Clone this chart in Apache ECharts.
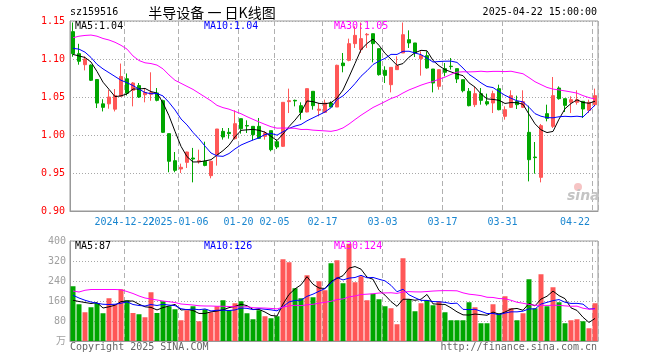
<!DOCTYPE html>
<html><head><meta charset="utf-8">
<script src="https://cdn.jsdelivr.net/npm/echarts@6/dist/echarts.min.js"></script>
<style>html,body{margin:0;padding:0;background:#fff}#c{width:660px;height:360px}</style>
</head><body><div id="c"></div>
<script>
const dates = [
'2024-12-10','2024-12-11','2024-12-12','2024-12-13','2024-12-16','2024-12-17','2024-12-18','2024-12-19','2024-12-20',
'2024-12-23','2024-12-24','2024-12-25','2024-12-26','2024-12-27','2024-12-30','2024-12-31',
'2025-01-02','2025-01-03','2025-01-06','2025-01-07','2025-01-08','2025-01-09','2025-01-10',
'2025-01-13','2025-01-14','2025-01-15','2025-01-16','2025-01-17','2025-01-20','2025-01-21','2025-01-22','2025-01-23','2025-01-24','2025-01-27',
'2025-02-05','2025-02-06','2025-02-07','2025-02-10','2025-02-11','2025-02-12','2025-02-13','2025-02-14',
'2025-02-17','2025-02-18','2025-02-19','2025-02-20','2025-02-21','2025-02-24','2025-02-25','2025-02-26','2025-02-27','2025-02-28',
'2025-03-03','2025-03-04','2025-03-05','2025-03-06','2025-03-07','2025-03-10','2025-03-11','2025-03-12','2025-03-13','2025-03-14',
'2025-03-17','2025-03-18','2025-03-19','2025-03-20','2025-03-21','2025-03-24','2025-03-25','2025-03-26','2025-03-27','2025-03-28',
'2025-03-31','2025-04-01','2025-04-02','2025-04-03','2025-04-07','2025-04-08','2025-04-09','2025-04-10','2025-04-11',
'2025-04-14','2025-04-15','2025-04-16','2025-04-17','2025-04-18','2025-04-21','2025-04-22'];

const open = [1.136,1.107,1.0925,1.092,1.073,1.041,1.041,1.034,1.051,1.074,
1.0588,1.065,1.053,1.0535,1.0553,1.0452,1.0018,0.9662,0.9553,0.964,
0.9697,0.965,0.9654,0.9465,0.974,1.0048,1.0035,0.9952,1.0215,1.0125,
1.0114,1.0114,0.9982,1.0057,0.9912,0.9851,1.0439,1.0456,1.0386,1.0303,
1.0575,1.0325,1.0298,1.0421,1.0368,1.0947,1.0982,1.1202,1.1123,1.1318,
1.1333,1.1136,1.0851,1.0662,1.0860,1.1079,1.1254,1.1211,1.1004,1.1044,
1.0868,1.0640,1.0873,1.0905,1.0873,1.0728,1.0575,1.0399,1.0544,1.0439,
1.0421,1.0610,1.0246,1.0364,1.0443,1.0364,1.0035,0.9710,0.9443,1.0281,
1.0114,1.0618,1.0478,1.0430,1.0430,1.0443,1.0325,1.0399];

const close = [1.107,1.097,1.100,1.072,1.042,1.0364,1.050,1.052,1.077,1.055,
1.0684,1.050,1.056,1.056,1.0456,1.0035,0.9654,0.9535,0.9575,0.9776,
0.9684,0.9662,0.960,0.9654,1.0079,0.9974,1.0018,1.0149,1.0083,1.0118,
1.0004,0.9956,1.0026,0.9807,0.9842,1.0430,1.0452,1.0448,1.0298,1.0610,
1.0386,1.0340,1.0421,1.0368,1.0917,1.0912,1.1202,1.1311,1.1268,1.1325,
1.1202,1.0794,1.0785,1.0890,1.0912,1.1320,1.1211,1.1079,1.1048,1.0882,
1.0684,1.0860,1.0825,1.0900,1.0737,1.0583,1.0386,1.0544,1.0456,1.0408,
1.0544,1.0333,1.0333,1.0518,1.0399,1.0439,0.9675,0.9702,1.0123,1.0219,
1.0518,1.0478,1.0390,1.0465,1.0465,1.0342,1.0430,1.0518];

const low = [1.103,1.0925,1.085,1.071,1.0355,1.031,1.0346,1.031,1.051,1.052,
1.0377,1.0487,1.043,1.045,1.0443,1.0026,0.951,0.951,0.950,0.9566,
0.9377,0.9623,0.9588,0.943,0.9597,0.9939,0.9952,0.9939,1.0018,1.0026,
0.9930,0.9952,0.9939,0.9785,0.9816,0.9842,1.0289,1.0377,1.0202,1.0298,
1.0333,1.0246,1.0289,1.0368,1.0368,1.0825,1.0970,1.1145,1.1079,1.1145,
1.0956,1.0781,1.0684,1.0561,1.0860,1.1079,1.1145,1.1026,1.0781,1.0873,
1.0561,1.0596,1.0772,1.0860,1.0684,1.0561,1.0377,1.0368,1.0399,1.0386,
1.0289,1.0325,1.0202,1.0355,1.0342,1.0355,0.9390,0.9491,0.9377,1.0180,
1.0092,1.0465,1.0303,1.0289,1.0399,1.0224,1.0289,1.0377];

const high = [1.148,1.120,1.1035,1.093,1.073,1.047,1.0596,1.0605,1.094,1.081,
1.0697,1.0684,1.0618,1.0825,1.0618,1.0465,1.0018,0.9776,0.9623,0.978,
0.983,0.9807,0.9912,0.9654,1.0079,1.0092,1.0092,1.0325,1.0215,1.0193,
1.0114,1.0224,1.0048,1.0057,0.9939,1.0430,1.0610,1.0465,1.0430,1.0610,
1.0575,1.0421,1.0465,1.0443,1.0925,1.1079,1.1268,1.1430,1.148,1.1342,
1.1333,1.1136,1.0904,1.0890,1.1035,1.148,1.1377,1.1211,1.1101,1.1101,
1.0868,1.0860,1.0947,1.1013,1.0873,1.0728,1.0618,1.0632,1.0618,1.0544,
1.0583,1.0662,1.0377,1.0588,1.0518,1.0588,1.0386,0.9908,1.0145,1.0399,
1.0763,1.0640,1.0478,1.0509,1.0588,1.0443,1.0465,1.0610];

const volume = [219,147,115,135,152,111,171,147,207,163,
112,107,95,195,112,159,139,127,83,123,
139,79,127,115,139,163,123,151,159,111,
87,123,99,91,99,327,315,211,171,263,
175,239,203,311,323,231,389,235,259,163,
189,167,139,131,67,331,167,119,151,163,
143,159,115,83,83,83,155,135,71,71,
147,111,179,131,83,111,247,131,267,139,
215,155,71,83,87,79,51,151];

const ma5Early = [1.106,1.104,1.102,1.096];
const ma10Early = [1.114,1.113,1.109,1.102,1.093,1.087,1.082,1.077,1.072];
const ma30Early = [1.128,1.130,1.131,1.1315,1.130,1.127,1.125,1.122,1.118,1.113,
1.104,1.098,1.095,1.094,1.092,1.087,1.079,1.072,1.068,1.064,
1.060,1.055,1.050,1.045,1.039,1.036,1.034,1.031,1.028];
const volMa5Early = [163,158,154,150];
const volMa10Early = [183,172,163,156,151,147,146,147,151];
const volMa30Early = [200,196,203,206,206,206,206,206,205,198,
190,180,172,168,164,160,157,154,148,146,
144,141,140,140,139,139,138,137,136];

const xTickIndex = [9,18,28,34,42,52,62,72,87];
const xTickLabels = ['2024-12-22','2025-01-06','01-20','02-05','02-17','03-03','03-17','03-31','04-22'];
const priceTicks = [0.90,0.95,1.00,1.05,1.10,1.15];
const volTicks = [0,80,160,240,320,400];

function movingAvg(arr, n, early, digits) {
  return arr.map((v, i) => {
    if (i < n - 1) return early[i];
    let s = 0;
    for (let k = i - n + 1; k <= i; k++) s += arr[k];
    return +(s / n).toFixed(digits);
  });
}

const UP = '#ff5757', DOWN = '#00a600';
const mono = '"DejaVu Sans Mono", "Noto Sans CJK SC", monospace';
const chart = echarts.init(document.getElementById('c'));

// labels split across two overlaid axes so the touching first pair is not auto-hidden
const firstGroup = xTickIndex.filter((_, k) => k % 2 === 0);
const secondGroup = xTickIndex.filter((_, k) => k % 2 === 1);

const xBase = (gi, labelSet, showLine, showSplit, alignLast) => ({
  type: 'category', gridIndex: gi, data: dates, boundaryGap: true, position: 'bottom',
  axisLine: { show: showLine, lineStyle: { color: '#999' } },
  axisTick: { show: false },
  axisLabel: Object.assign({
    show: labelSet.length > 0, hideOverlap: false,
    interval: (i) => labelSet.includes(i),
    formatter: (v, i) => xTickLabels[xTickIndex.indexOf(i)] || '',
    color: '#1a86d0', fontFamily: mono, fontSize: 10, margin: 6, padding: [0, 5, 0, 0]
  }, alignLast ? { alignMaxLabel: 'right' } : {}),
  splitLine: { show: showSplit, interval: (i) => xTickIndex.includes(i), lineStyle: { color: '#b0b0b0', type: [5, 3], width: 1 } }
});

const lineS = (name, data, color, xi, yi) => ({
  name, type: 'line', data, xAxisIndex: xi, yAxisIndex: yi, symbol: 'none', smooth: false,
  lineStyle: { color, width: 1 }, silent: true, z: 5
});

function txt(text, x, y, color, align, font) {
  return { type: 'text', x, y, z: 100, style: { text, fill: color, align, verticalAlign: 'middle', font: font || ('10px ' + mono) } };
}

chart.setOption({
  animation: false,
  backgroundColor: '#fff',
  grid: [
    { left: 70, top: 21, width: 528, height: 190, show: true, borderColor: '#999', borderWidth: 1 },
    { left: 70, top: 241, width: 528, height: 100, show: true, borderColor: '#999', borderWidth: 1 }
  ],
  xAxis: [xBase(0, firstGroup, true, true, true), xBase(1, [], true, true, false), xBase(0, secondGroup, false, false, false)],
  yAxis: [
    { type: 'value', gridIndex: 0, min: priceTicks[0], max: priceTicks[priceTicks.length - 1], interval: 0.05,
      axisLine: { show: true, lineStyle: { color: '#999' } }, axisTick: { show: false },
      axisLabel: { color: '#ff0000', fontFamily: mono, fontSize: 10, margin: 5, formatter: (v) => v.toFixed(2) },
      splitLine: { show: true, lineStyle: { color: '#a8a8a8', type: [1, 2] } } },
    { type: 'value', gridIndex: 1, min: volTicks[0], max: volTicks[volTicks.length - 1], interval: 80,
      axisLine: { show: true, lineStyle: { color: '#999' } }, axisTick: { show: false },
      axisLabel: { color: '#a0a0a0', fontFamily: mono, fontSize: 10, margin: 4, formatter: (v) => v === 0 ? '万' : String(v) },
      splitLine: { show: true, lineStyle: { color: '#a8a8a8', type: [1, 2] } } }
  ],
  series: [
    { type: 'candlestick', xAxisIndex: 0, yAxisIndex: 0, barWidth: 4,
      data: dates.map((d, i) => [open[i], close[i], low[i], high[i]]),
      itemStyle: { color: UP, color0: DOWN, borderColor: UP, borderColor0: DOWN, borderWidth: 1 } },
    lineS('MA5', movingAvg(close, 5, ma5Early, 4), '#000000', 0, 0),
    lineS('MA10', movingAvg(close, 10, ma10Early, 4), '#0000ff', 0, 0),
    lineS('MA30', movingAvg(close, 30, ma30Early, 4), '#ff00ff', 0, 0),
    { type: 'bar', xAxisIndex: 1, yAxisIndex: 1, barWidth: 5,
      data: volume.map((v, i) => ({ value: v, itemStyle: { color: close[i] >= open[i] ? UP : DOWN } })) },
    lineS('VMA5', movingAvg(volume, 5, volMa5Early, 1), '#000000', 1, 1),
    lineS('VMA10', movingAvg(volume, 10, volMa10Early, 1), '#0000ff', 1, 1),
    lineS('VMA30', movingAvg(volume, 30, volMa30Early, 1), '#ff00ff', 1, 1)
  ],
  graphic: [
    txt('sz159516', 70, 12.5, '#000', 'left'),
    txt('半导设备 一 日K线图', 212, 12.5, '#000', 'center', '14px "Noto Sans CJK SC"'),
    txt('2025-04-22 15:00:00', 597, 12.5, '#000', 'right'),
    txt('MA5:1.04', 75, 26.5, '#000', 'left'),
    txt('MA10:1.04', 204, 26.5, '#0000ff', 'left'),
    txt('MA30:1.05', 334, 26.5, '#ff00ff', 'left'),
    txt('MA5:87', 75, 246.5, '#000', 'left'),
    txt('MA10:126', 204, 246.5, '#0000ff', 'left'),
    txt('MA30:124', 334, 246.5, '#ff00ff', 'left'),
    txt('Copyright 2025 SINA.COM', 70, 347, '#666', 'left'),
    txt('http://finance.sina.com.cn', 597, 347, '#666', 'right'),
    { type: 'circle', z: 1, shape: { cx: 578, cy: 187, r: 4 }, style: { fill: '#f6c4c4' } },
    txt('sina', 567, 196, '#c4c4c4', 'left', 'italic bold 14px "DejaVu Sans"')
  ]
});
</script>
</body></html>
